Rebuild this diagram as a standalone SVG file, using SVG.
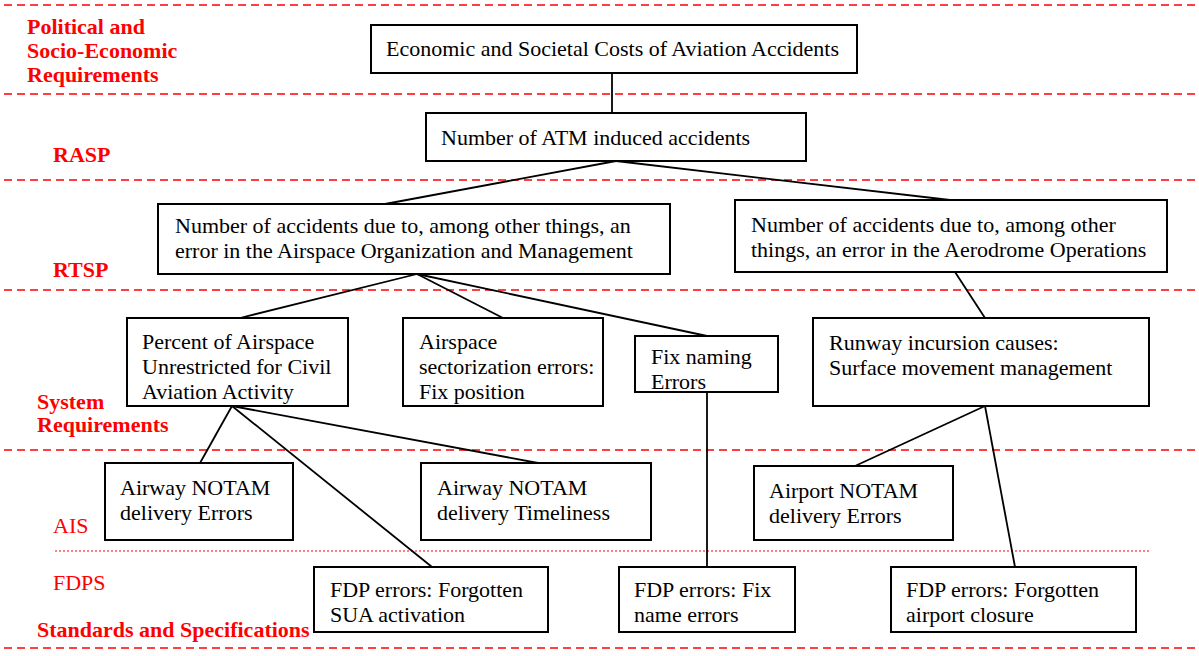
<svg xmlns="http://www.w3.org/2000/svg" width="1199" height="656" viewBox="0 0 1199 656">
<style>
.box{fill:#fff;stroke:#000;stroke-width:2}
.t{font-family:"Liberation Serif","Times New Roman",serif;font-size:22px;fill:#000}
.lbl{font-family:"Liberation Serif","Times New Roman",serif;font-size:22px;fill:#ff0000;font-weight:bold}
.lbn{font-family:"Liberation Serif","Times New Roman",serif;font-size:22px;fill:#ff0000}
.dash{stroke:#ff0000;stroke-width:1.6;stroke-dasharray:8 5;fill:none}
.dot{stroke:#ff0000;stroke-width:1;stroke-dasharray:2 2;fill:none}
.c{stroke:#000;stroke-width:1.8;fill:none}
</style>
<rect width="1199" height="656" fill="#fff"/>
<g id="bands">
<line class="dash" x1="4" y1="5" x2="1199" y2="5"/>
<line class="dash" x1="4" y1="94" x2="1199" y2="94"/>
<line class="dash" x1="4" y1="180" x2="1199" y2="180"/>
<line class="dash" x1="4" y1="290" x2="1199" y2="290"/>
<line class="dash" x1="4" y1="450" x2="1199" y2="450"/>
<line class="dot" x1="55" y1="551" x2="1150" y2="551"/>
<line class="dash" x1="4" y1="648" x2="1199" y2="648"/>
<text class="lbl" x="27" y="34">Political and</text>
<text class="lbl" x="27" y="58">Socio-Economic</text>
<text class="lbl" x="27" y="82">Requirements</text>
<text class="lbl" x="53" y="162">RASP</text>
<text class="lbl" x="53" y="277">RTSP</text>
<text class="lbl" x="37" y="409">System</text>
<text class="lbl" x="37" y="432">Requirements</text>
<text class="lbn" x="53" y="533">AIS</text>
<text class="lbn" x="53" y="590">FDPS</text>
<text class="lbl" x="37" y="637">Standards and Specifications</text>
</g>
<g id="connectors">
<line class="c" x1="612" y1="73" x2="612" y2="113"/>
<line class="c" x1="616" y1="161" x2="385" y2="204"/>
<line class="c" x1="616" y1="161" x2="950" y2="200"/>
<line class="c" x1="955" y1="272" x2="985" y2="318"/>
<line class="c" x1="417" y1="274" x2="240" y2="318"/>
<line class="c" x1="417" y1="274" x2="503" y2="318"/>
<line class="c" x1="417" y1="274" x2="707" y2="336"/>
<line class="c" x1="232" y1="406" x2="200" y2="463"/>
<line class="c" x1="232" y1="406" x2="538" y2="463"/>
<line class="c" x1="232" y1="406" x2="432" y2="567"/>
<line class="c" x1="707" y1="392" x2="707" y2="567"/>
<line class="c" x1="985" y1="406" x2="855" y2="466"/>
<line class="c" x1="985" y1="406" x2="1015" y2="567"/>
</g>
<g id="n-econ">
<rect class="box" x="371" y="25" width="486" height="48"/>
<text class="t" x="386" y="56">Economic and Societal Costs of Aviation Accidents</text>
</g>
<g id="n-atm">
<rect class="box" x="426" y="113" width="380" height="48"/>
<text class="t" x="441" y="145">Number of ATM induced accidents</text>
</g>
<g id="n-airspace-org">
<rect class="box" x="158" y="204" width="512" height="70"/>
<text class="t" x="175" y="233">Number of accidents due to, among other things, an</text>
<text class="t" x="175" y="258">error in the Airspace Organization and Management</text>
</g>
<g id="n-aerodrome">
<rect class="box" x="735" y="200" width="432" height="72"/>
<text class="t" x="751" y="232">Number of accidents due to, among other</text>
<text class="t" x="751" y="257">things, an error in the Aerodrome Operations</text>
</g>
<g id="n-percent">
<rect class="box" x="127" y="318" width="221" height="88"/>
<text class="t" x="142" y="349">Percent of Airspace</text>
<text class="t" x="142" y="374">Unrestricted for Civil</text>
<text class="t" x="142" y="399">Aviation Activity</text>
</g>
<g id="n-sector">
<rect class="box" x="403" y="318" width="200" height="88"/>
<text class="t" x="419" y="349">Airspace</text>
<text class="t" x="419" y="374">sectorization errors:</text>
<text class="t" x="419" y="399">Fix position</text>
</g>
<g id="n-fixnaming">
<rect class="box" x="635" y="336" width="143" height="56"/>
<text class="t" x="651" y="364">Fix naming</text>
<text class="t" x="651" y="389">Errors</text>
</g>
<g id="n-runway">
<rect class="box" x="813" y="318" width="336" height="88"/>
<text class="t" x="829" y="350">Runway incursion causes:</text>
<text class="t" x="829" y="375">Surface movement management</text>
</g>
<g id="n-airway-err">
<rect class="box" x="105" y="463" width="188" height="77"/>
<text class="t" x="120" y="495">Airway NOTAM</text>
<text class="t" x="120" y="520">delivery Errors</text>
</g>
<g id="n-airway-time">
<rect class="box" x="421" y="463" width="230" height="77"/>
<text class="t" x="437" y="495">Airway NOTAM</text>
<text class="t" x="437" y="520">delivery Timeliness</text>
</g>
<g id="n-airport-err">
<rect class="box" x="754" y="466" width="199" height="74"/>
<text class="t" x="769" y="498">Airport NOTAM</text>
<text class="t" x="769" y="523">delivery Errors</text>
</g>
<g id="n-fdp-sua">
<rect class="box" x="314" y="567" width="234" height="65"/>
<text class="t" x="330" y="597">FDP errors: Forgotten</text>
<text class="t" x="330" y="622">SUA activation</text>
</g>
<g id="n-fdp-fix">
<rect class="box" x="619" y="567" width="176" height="65"/>
<text class="t" x="634" y="597">FDP errors: Fix</text>
<text class="t" x="634" y="622">name errors</text>
</g>
<g id="n-fdp-airport">
<rect class="box" x="891" y="567" width="245" height="65"/>
<text class="t" x="906" y="597">FDP errors: Forgotten</text>
<text class="t" x="906" y="622">airport closure</text>
</g>
</svg>
